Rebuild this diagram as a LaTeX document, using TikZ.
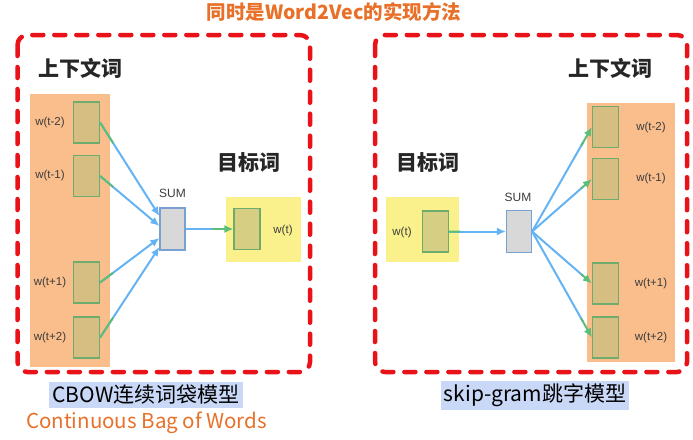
\documentclass[tikz,border=0pt]{standalone}
\usepackage{fontspec}
\usetikzlibrary{arrows.meta,calc}
\newfontfamily\cjk{Noto Sans CJK SC}
\newfontfamily\lab{Liberation Sans}
\definecolor{dred}{RGB}{232,18,24}
\definecolor{ttlor}{RGB}{232,112,40}
\definecolor{colbg}{RGB}{250,190,140}
\definecolor{ylbg}{RGB}{250,241,140}
\definecolor{boxf}{RGB}{214,190,130}
\definecolor{boxfy}{RGB}{214,206,130}
\definecolor{boxb}{RGB}{110,172,110}
\definecolor{sumf}{RGB}{216,216,216}
\definecolor{sumb}{RGB}{120,160,210}
\definecolor{arrb}{RGB}{100,180,245}
\definecolor{arrg}{RGB}{90,190,120}
\definecolor{hl}{RGB}{200,216,246}
\definecolor{labc}{RGB}{60,60,60}
\tikzset{
  x=1pt,y=-1pt,
  dashbox/.style={draw=dred,line width=4.5pt,dash pattern=on 11pt off 11pt,line cap=round,rounded corners=10pt},
  ctxcol/.style={fill=colbg,inner sep=0pt},
  ylw/.style={fill=ylbg,inner sep=0pt},
  wbox/.style={draw=boxb,fill=boxf,line width=1.2pt,inner sep=0pt,minimum width=26pt,minimum height=41pt},
  sumbox/.style={draw=sumb,fill=sumf,line width=1.2pt,inner sep=0pt,minimum width=25pt,minimum height=42pt},
  wlab/.style={font=\lab\fontsize{11.5}{12}\selectfont,text=labc,inner sep=0pt},
  head/.style={font=\cjk\bfseries\fontsize{21}{21}\selectfont,text=black!85,inner sep=0pt},
  bline/.style={draw=arrb,line width=2pt},
  gline/.style={draw=arrg,line width=2pt},
  tip/.style={-{Latex[length=9pt,width=8pt]}},
  hlbox/.style={fill=hl,inner sep=3pt,font=\cjk\fontsize{21}{21}\selectfont,text=black}
}
\begin{document}
\begin{tikzpicture}
\useasboundingbox (0,0) rectangle (693,439);
\fill[white] (0,0) rectangle (693,439);
% title
\node[font=\cjk\bfseries\fontsize{19.5}{19.5}\selectfont,text=ttlor,inner sep=0pt] (title) at (334,12) {同时是Word2Vec的实现方法};
% ---------- left panel ----------
\draw[dashbox] (17.5,35) rectangle (310,372);
\node[head] (lhead) at (80,68) {上下文词};
\node[head] (ltgt) at (249,163) {目标词};
\node[ctxcol,minimum width=80pt,minimum height=273pt] (lctx) at (70,230.5) {};
\node[wbox] (lb1) at (86.5,122.5) {};
\node[wbox] (lb2) at (86.5,176) {};
\node[wbox] (lb3) at (86.5,282.5) {};
\node[wbox] (lb4) at (86.5,337.5) {};
\node[wlab] (ll1) at (50,123) {w(t-2)};
\node[wlab] (ll2) at (50,176) {w(t-1)};
\node[wlab] (ll3) at (50,283) {w(t+1)};
\node[wlab] (ll4) at (50,338) {w(t+2)};
\node[sumbox] (ls) at (172.5,229) {};
\node[wlab,font=\lab\fontsize{12}{12}\selectfont] (lsl) at (172.5,193) {SUM};
\node[ylw,minimum width=75pt,minimum height=65pt] (ly) at (263,229.5) {};
\node[wbox,fill=boxfy] (lt) at (247,229) {};
\node[wlab] (ltl) at (283,231) {w(t)};
\coordinate (lt1) at ($(ls.west)+(0,-13)$);
\coordinate (lt2) at ($(ls.west)+(0,-3)$);
\coordinate (lt3) at ($(ls.west)+(0,9)$);
\coordinate (lt4) at ($(ls.west)+(0,18)$);
\foreach \i in {1,2,3,4}{
  \draw[bline,tip] (lb\i.east) -- (lt\i);
  \draw[gline] (lb\i.east) -- ($(lb\i.east)!0.22!(lt\i)$);
}
\draw[bline] (ls.east) -- ($(ls.east)!0.6!(lt.west)$);
\draw[gline,tip] ($(ls.east)!0.55!(lt.west)$) -- (lt.west);
\draw[bline] (ls.east) -- ($(ls.east)!0.5!(lt.west)$);
% ---------- right panel ----------
\draw[dashbox] (375,35) rectangle (687,372);
\node[head] (rhead) at (610,68) {上下文词};
\node[head] (rtgt) at (428,163) {目标词};
\node[ylw,minimum width=73pt,minimum height=65pt] (ry) at (422.5,229.5) {};
\node[wbox,fill=boxfy] (rt) at (435.5,231.5) {};
\node[wlab] (rtl) at (402,233) {w(t)};
\node[sumbox] (rs) at (519,231.5) {};
\node[wlab,font=\lab\fontsize{12}{12}\selectfont] (rsl) at (518,197) {SUM};
\node[ctxcol,minimum width=88pt,minimum height=259pt] (rctx) at (631,232.5) {};
\node[wbox] (rb1) at (605.5,127) {};
\node[wbox] (rb2) at (605.5,179) {};
\node[wbox] (rb3) at (605.5,283.5) {};
\node[wbox] (rb4) at (605.5,337.5) {};
\node[wlab] (rl1) at (651,128) {w(t-2)};
\node[wlab] (rl2) at (651,179) {w(t-1)};
\node[wlab] (rl3) at (651,284) {w(t+1)};
\node[wlab] (rl4) at (651,338) {w(t+2)};
\draw[bline,tip] (rt.east) -- (rs.west);
\draw[gline] (rt.east) -- ($(rt.east)!0.2!(rs.west)$);
\foreach \i in {1,2,3,4}{
  \draw[bline] (rs.east) -- ($(rs.east)!0.85!(rb\i.west)$);
  \draw[gline,tip] ($(rs.east)!0.82!(rb\i.west)$) -- (rb\i.west);
}
% ---------- captions ----------
\node[hlbox] (cbow) at (146,395) {CBOW连续词袋模型};
\node[font=\cjk\fontsize{20.5}{20.5}\selectfont,text=ttlor,inner sep=0pt] (cbowen) at (146.5,423) {Continuous Bag of Words};
\node[hlbox] (skip) at (535,395.5) {skip-gram跳字模型};
\end{tikzpicture}
\end{document}
